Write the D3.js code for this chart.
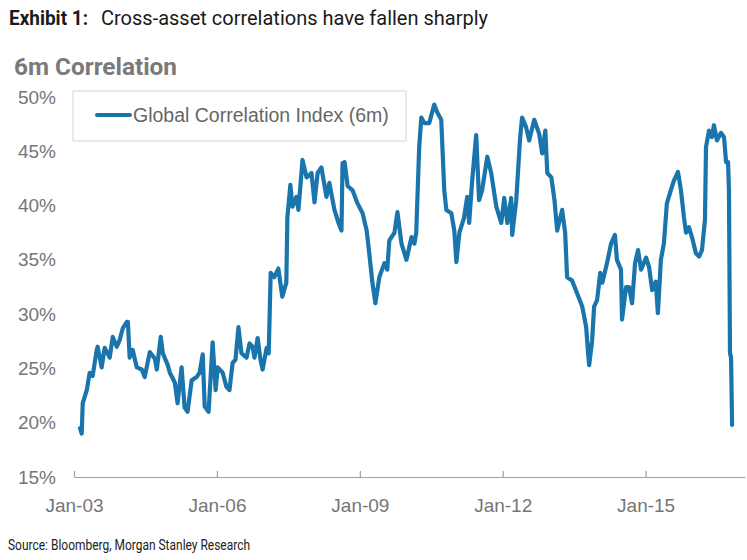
<!DOCTYPE html>
<html>
<head>
<meta charset="utf-8">
<script src="https://cdn.jsdelivr.net/npm/d3@7"></script>
<style>
  body { margin: 0; background: #fff; }
  svg { display: block; }
</style>
</head>
<body>
<script>
// series (date, 6m correlation in %)
const dates = [
  "2003-02-16","2003-03-01","2003-03-09","2003-04-09","2003-05-01","2003-05-24","2003-06-24","2003-07-01",
  "2003-08-01","2003-08-24","2003-10-02","2003-10-25","2003-11-25","2003-12-17","2004-01-10","2004-02-10",
  "2004-02-18","2004-03-03","2004-03-26","2004-04-26","2004-06-04","2004-06-26","2004-08-04","2004-09-12",
  "2004-09-27","2004-10-27","2004-11-12","2004-12-20","2005-01-05","2005-02-12","2005-03-05","2005-04-05",
  "2005-04-28","2005-05-21","2005-06-21","2005-07-29","2005-08-21","2005-09-14","2005-09-29","2005-10-29",
  "2005-11-29","2005-12-22","2006-01-07","2006-02-14","2006-03-15","2006-04-07","2006-05-01","2006-05-23",
  "2006-06-15","2006-07-08","2006-08-16","2006-09-08","2006-10-01","2006-10-16","2006-11-09","2006-12-01",
  "2006-12-17","2007-01-17","2007-02-02","2007-02-17","2007-03-17","2007-04-17","2007-05-17","2007-06-17",
  "2007-06-25","2007-07-18","2007-08-03","2007-09-03","2007-09-18","2007-10-19","2007-11-19","2007-12-27",
  "2008-01-19","2008-02-12","2008-03-12","2008-04-20","2008-05-12","2008-06-20","2008-07-21","2008-08-13",
  "2008-08-21","2008-09-06","2008-09-29","2008-11-06","2008-12-14","2009-01-22","2009-02-22","2009-03-14",
  "2009-04-07","2009-04-30","2009-05-30","2009-07-08","2009-07-30","2009-08-15","2009-09-23","2009-10-16",
  "2009-11-16","2009-12-24","2010-02-01","2010-02-23","2010-03-09","2010-04-01","2010-04-17","2010-05-10",
  "2010-06-17","2010-07-25","2010-08-17","2010-09-17","2010-10-10","2010-10-26","2010-12-03","2010-12-26",
  "2011-01-11","2011-02-03","2011-03-11","2011-04-04","2011-04-19","2011-05-12","2011-06-12","2011-07-04",
  "2011-07-27","2011-09-05","2011-10-05","2011-11-13","2011-12-21","2012-01-13","2012-02-06","2012-03-06",
  "2012-03-14","2012-04-14","2012-05-14","2012-05-29","2012-06-29","2012-07-22","2012-08-30","2012-10-07",
  "2012-10-30","2012-11-23","2012-12-08","2013-01-08","2013-02-01","2013-02-22","2013-04-01","2013-04-24",
  "2013-05-09","2013-06-16","2013-07-25","2013-09-02","2013-10-02","2013-10-17","2013-10-25","2013-11-17",
  "2013-12-02","2013-12-25","2014-01-18","2014-02-03","2014-03-11","2014-04-11","2014-05-11","2014-05-26",
  "2014-06-26","2014-07-04","2014-08-04","2014-08-27","2014-09-19","2014-10-12","2014-11-04","2014-11-27",
  "2015-01-05","2015-01-28","2015-02-20","2015-03-20","2015-04-05","2015-04-28","2015-05-21","2015-06-13",
  "2015-07-13","2015-08-06","2015-09-06","2015-09-29","2015-10-22","2015-11-07","2015-11-30","2015-12-22",
  "2016-01-22","2016-02-15","2016-03-08","2016-03-31","2016-04-08","2016-05-01","2016-05-23","2016-06-08",
  "2016-07-01","2016-08-01","2016-08-24","2016-09-09","2016-09-24","2016-10-01","2016-10-09","2016-10-17",
  "2016-10-25"
];
const corr = [
  19.5,19.0,21.8,23.0,24.6,24.3,26.7,27.0,
  25.1,26.9,26.0,27.9,27.0,27.6,28.7,29.3,
  29.3,26.0,26.7,25.1,24.9,24.2,26.5,25.9,
  24.9,27.9,26.4,25.3,24.6,23.7,21.8,25.1,
  21.4,21.0,23.9,24.2,24.6,26.3,21.5,21.0,
  27.4,23.0,25.1,24.6,23.3,23.0,25.5,25.8,
  28.8,26.4,26.0,27.3,27.0,26.0,27.8,25.8,
  24.9,26.9,26.4,33.8,33.4,34.2,31.6,32.9,
  38.9,41.9,39.9,40.8,39.6,44.2,42.6,43.0,
  40.3,43.0,43.5,40.8,42.1,39.6,38.4,37.7,
  43.9,44.0,41.8,41.4,40.2,39.3,37.7,35.6,
  32.9,31.0,33.4,34.7,34.1,36.8,37.5,39.4,
  36.5,35.0,37.1,36.5,37.5,45.4,48.1,47.6,
  47.6,49.3,48.6,47.9,41.4,39.6,39.3,37.7,
  34.8,37.5,38.9,40.8,38.4,42.3,46.5,40.5,
  41.4,44.5,43.0,39.9,38.4,40.7,38.4,40.7,
  37.3,40.5,46.3,48.1,47.2,46.0,47.9,46.6,
  44.8,46.9,43.0,42.6,40.5,37.7,39.6,37.5,
  33.4,33.1,31.9,30.7,28.8,26.4,25.3,27.6,
  30.7,31.3,33.8,32.9,34.7,36.5,37.3,35.0,
  34.1,29.5,32.5,32.5,31.0,34.7,35.9,34.1,
  35.2,34.3,32.2,33.0,30.1,35.0,36.5,40.2,
  41.4,42.3,43.1,41.4,38.9,37.5,38.0,37.1,
  35.6,35.3,35.9,38.7,45.4,46.9,46.3,47.4,
  46.0,46.7,46.3,44.0,44.0,41.4,26.4,26.0,
  19.8
];
const yTicks = [15, 20, 25, 30, 35, 40, 45, 50];
const xTickYears = [2003, 2006, 2009, 2012, 2015];
const seriesName = "Global Correlation Index (6m)";

const W = 747, H = 560;
const blue = "#1b75ad";
const grey = "#767676";
const roboto = "Roboto, sans-serif";
const sans = "'Liberation Sans', Arial, sans-serif";

const parse = d3.timeParse("%Y-%m-%d");
const data = dates.map((d, i) => ({ date: parse(d), value: corr[i] }));

const svg = d3.select("body").append("svg")
    .attr("width", W)
    .attr("height", H);

// titles (condensed look: squeeze Roboto to the reference widths)
svg.append("text")
    .attr("x", 9).attr("y", 25)
    .attr("font-family", roboto)
    .attr("font-weight", "bold")
    .attr("font-size", 21)
    .attr("fill", "#1a1a1a")
    .attr("textLength", 79)
    .attr("lengthAdjust", "spacingAndGlyphs")
    .text("Exhibit 1:");

svg.append("text")
    .attr("x", 101).attr("y", 25)
    .attr("font-family", roboto)
    .attr("font-size", 21)
    .attr("fill", "#1a1a1a")
    .attr("textLength", 387)
    .attr("lengthAdjust", "spacingAndGlyphs")
    .text("Cross-asset correlations have fallen sharply");

svg.append("text")
    .attr("x", 14).attr("y", 75)
    .attr("font-family", roboto)
    .attr("font-weight", "bold")
    .attr("font-size", 24)
    .attr("fill", "#7a7a7a")
    .attr("textLength", 163)
    .attr("lengthAdjust", "spacingAndGlyphs")
    .text("6m Correlation");

const x = d3.scaleTime()
    .domain([new Date(2003, 0, 1), new Date(2017, 1, 1)])
    .range([74, 745]);

const y = d3.scaleLinear()
    .domain([15, 50])
    .range([477, 97]);

// y axis labels (no axis line)
const yAxis = svg.append("g")
    .attr("transform", "translate(56,0)")
    .call(d3.axisLeft(y).tickValues(yTicks).tickSize(0).tickPadding(0)
        .tickFormat(d => d + "%"));
yAxis.select(".domain").remove();
yAxis.selectAll("text")
    .attr("font-family", sans)
    .attr("font-size", 19)
    .attr("fill", grey);

// x axis: ticks point up from the baseline
const xAxis = svg.append("g")
    .attr("transform", "translate(0," + y(15) + ")")
    .call(d3.axisBottom(x)
        .tickValues(xTickYears.map(yr => new Date(yr, 0, 1)))
        .tickFormat(d3.timeFormat("%b-%y"))
        .tickSizeOuter(0)
        .tickSize(0)
        .tickPadding(22));
xAxis.select(".domain").attr("stroke", "#a0a0a0").attr("stroke-width", 1.2);
xAxis.selectAll(".tick line").attr("y2", -6).attr("stroke", "#a0a0a0").attr("stroke-width", 1.2);
xAxis.selectAll("text")
    .attr("font-family", sans)
    .attr("font-size", 19)
    .attr("fill", grey);

// the series
const line = d3.line()
    .x(d => x(d.date))
    .y(d => y(d.value));

svg.append("path")
    .datum(data)
    .attr("fill", "none")
    .attr("stroke", blue)
    .attr("stroke-width", 4.2)
    .attr("stroke-linejoin", "round")
    .attr("stroke-linecap", "round")
    .attr("d", line);

// legend box
const legend = svg.append("g").attr("transform", "translate(73,91)");
legend.append("rect")
    .attr("width", 333).attr("height", 50)
    .attr("fill", "#fff")
    .attr("stroke", "#d6d6d6");
legend.append("line")
    .attr("x1", 24).attr("x2", 57)
    .attr("y1", 24).attr("y2", 24)
    .attr("stroke", blue)
    .attr("stroke-width", 4)
    .attr("stroke-linecap", "round");
legend.append("text")
    .attr("x", 60).attr("y", 24)
    .attr("dy", "0.35em")
    .attr("font-family", sans)
    .attr("font-size", 19.5)
    .attr("fill", "#666")
    .text(seriesName);

// source
svg.append("text")
    .attr("x", 8).attr("y", 550)
    .attr("font-family", roboto)
    .attr("font-size", 14)
    .attr("fill", "#222")
    .attr("textLength", 242)
    .attr("lengthAdjust", "spacingAndGlyphs")
    .text("Source: Bloomberg, Morgan Stanley Research");
</script>
</body>
</html>
